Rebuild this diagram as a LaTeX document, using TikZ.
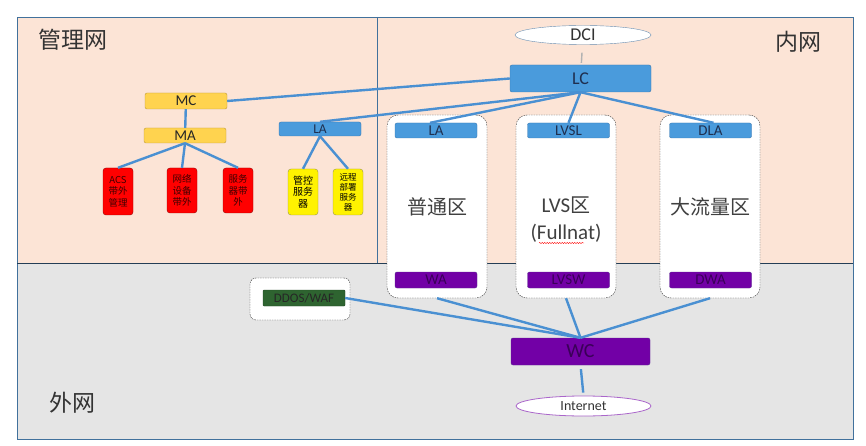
\documentclass[tikz,border=0pt]{standalone}
\usepackage{fontspec}
\setmainfont{Carlito}
\newfontfamily\cjk{Noto Sans CJK SC}
\usepackage{xcolor}
\usepackage{tikz}
\usetikzlibrary{shapes,shapes.geometric}
\usetikzlibrary{calc,positioning,decorations.pathmorphing}

\definecolor{peach}{HTML}{FCE4D6}
\definecolor{outgray}{HTML}{E5E5E5}
\definecolor{framecol}{HTML}{41719C}
\definecolor{linkblue}{HTML}{4A90D2}
\definecolor{nodeblue}{HTML}{4A9BDC}
\definecolor{nodeblueline}{HTML}{3A78B0}
\definecolor{mgmtyellow}{HTML}{FFD34F}
\definecolor{mgmtline}{HTML}{BF9A3A}
\definecolor{purp}{HTML}{7200A6}
\definecolor{purpline}{HTML}{5B2D91}
\definecolor{purptext}{HTML}{3A0058}
\definecolor{ddosgreen}{HTML}{2E6430}
\definecolor{labeltext}{HTML}{1F2F4F}

\begin{document}
\begin{tikzpicture}[x=1pt,y=-1pt,
	bluebox/.style={rectangle,rounded corners=2pt,draw=nodeblueline,fill=nodeblue,text=labeltext,inner sep=0pt,font=\fontsize{15}{16}\selectfont},
	mgmtbox/.style={rectangle,rounded corners=2pt,draw=mgmtline,fill=mgmtyellow,text=black!85,inner sep=0pt,font=\fontsize{15}{16}\selectfont,minimum width=82pt},
	redbox/.style={rectangle,rounded corners=3pt,draw=red!60!black,fill=red,text=black!75!red,inner sep=0pt,align=center,minimum width=30pt,font=\cjk\fontsize{9.5}{11.5}\selectfont},
	ctlbox/.style={rectangle,rounded corners=3pt,draw=yellow!55!black,fill=yellow,text=black,inner sep=0pt,align=center,minimum width=30pt,minimum height=46pt},
	zonebox/.style={rectangle,rounded corners=11pt,draw=black!80,dash pattern=on 1.5pt off 1pt,fill=white,minimum width=100pt,inner sep=0pt},
	purpbox/.style={rectangle,rounded corners=2pt,draw=purpline,fill=purp,text=purptext,inner sep=0pt,font=\fontsize{15}{16}\selectfont},
	cloud/.style={ellipse,fill=white,inner sep=0pt,text=black!80},
	areaname/.style={font=\cjk\fontsize{23}{23}\selectfont,text=black!80},
	zonename/.style={font=\fontsize{21}{27}\selectfont,text=black!75,align=center},
	link/.style={draw=linkblue,line width=2.4pt}]
	% areas
	\fill[peach] (17,17) rectangle (853,263);
	\fill[outgray] (17,263) rectangle (853,439);
	\draw[framecol,line width=0.8pt] (17,17) rectangle (853,439);
	\draw[framecol,line width=0.8pt] (377,17) -- (377,263);
	\draw[black!45!framecol,line width=0.8pt] (17,263) -- (853,263);
	\node[areaname] (mgmtnet) at (73,40) {管理网};
	\node[areaname] (innet) at (798,42) {内网};
	\node[areaname] (outnet) at (72,403) {外网};
	
	% management side
	\node[mgmtbox,minimum height=16pt] (mc) at (186,101) {MC};
	\node[mgmtbox,minimum height=15pt] (ma) at (185,135.5) {MA};
	\node[bluebox,minimum width=82pt,minimum height=14pt,font=\fontsize{13.5}{14}\selectfont] (lam) at (320,129) {LA};
	\node[redbox,minimum height=47pt] (acs) at (118,191.5) {ACS\\带外\\管理};
	\node[redbox,minimum height=45pt] (netdev) at (182,190.5) {网络\\设备\\带外};
	\node[redbox,minimum height=45pt] (server) at (238,190.5) {服务\\器带\\外};
	\node[ctlbox,font=\cjk\fontsize{10}{11.5}\selectfont] (ctlsrv) at (303,192) {管控\\服务\\器};
	\node[ctlbox,font=\cjk\fontsize{8.5}{10}\selectfont] (deploysrv) at (348,192) {远程\\部署\\服务\\器};
	
	% inner zones
	\node[cloud,draw=framecol!80,minimum width=136pt,minimum height=19pt,font=\fontsize{18}{18}\selectfont] (dci) at (583,35) {DCI};
	\node[bluebox,minimum width=141pt,minimum height=27pt,font=\fontsize{18}{18}\selectfont] (lc) at (580.5,78.5) {LC};
	\node[zonebox,minimum height=183pt] (zone1) at (437,206.5) {};
	\node[zonebox,minimum height=183pt] (zone2) at (566,206.5) {};
	\node[zonebox,minimum height=183pt] (zone3) at (710,206.5) {};
	\node[bluebox,minimum width=82pt,minimum height=15pt] (la) at (436,130.5) {LA};
	\node[bluebox,minimum width=82pt,minimum height=15pt] (lvsl) at (568.5,130.5) {LVSL};
	\node[bluebox,minimum width=82pt,minimum height=15pt] (dla) at (710.5,130.5) {DLA};
	\node[purpbox,minimum width=82pt,minimum height=16pt] (wa) at (436,280) {WA};
	\node[purpbox,minimum width=82pt,minimum height=16pt] (lvsw) at (568.5,280) {LVSW};
	\node[purpbox,minimum width=82pt,minimum height=16pt] (dwa) at (710.5,280) {DWA};
	\node[zonename,font=\cjk\fontsize{20}{26}\selectfont] (normal) at (437,207) {普通区};
	\node[zonename] (lvs) at (566,220) {LVS{\cjk\fontsize{20}{26}\selectfont 区}\\(Fullnat)};
	\node[zonename,font=\cjk\fontsize{20}{26}\selectfont] (bigflow) at (710,207) {大流量区};
	\draw[red,decorate,decoration={snake,amplitude=0.6pt,segment length=2.5pt}] (539,243) -- (584,243);
	
	% outside
	\node[zonebox,minimum height=42pt,rounded corners=6pt] (ddosbox) at (300,299) {};
	\node[rectangle,rounded corners=1pt,draw=ddosgreen!70!black,fill=ddosgreen,text=black!85,inner sep=0pt,minimum width=82pt,minimum height=16pt,font=\fontsize{13}{13}\selectfont] (ddos) at (304,298) {DDOS/WAF};
	\node[purpbox,minimum width=139pt,minimum height=27pt,font=\fontsize{20}{20}\selectfont] (wc) at (580.5,351.5) {WC};
	\node[cloud,draw=purp!60,line width=0.8pt,minimum width=135pt,minimum height=20pt,font=\fontsize{14}{14}\selectfont] (internet) at (583.5,406) {Internet};
	
	% links
	\draw[black!30,line width=1.4pt,shorten <=8pt,shorten >=2pt] (dci) -- (lc);
	\draw[link] (mc.east) -- (lc.west);
	\draw[link] (mc) -- (ma);
	\draw[link] (ma.south) -- (acs.north);
	\draw[link] (ma.south) -- (netdev.north);
	\draw[link] (ma.south) -- (server.north);
	\draw[link] (lam.south) -- (ctlsrv.north);
	\draw[link] (lam.south) -- (deploysrv.north);
	\draw[link] (lc.south) -- (lam.north);
	\draw[link] (lc.south) -- ([xshift=-6pt]la.north);
	\draw[link] (lc.south) -- (lvsl.north);
	\draw[link] (lc.south) -- ([xshift=3pt]dla.north);
	\draw[link] (ddos.east) -- (wc.north);
	\draw[link] (zone1.south) -- (wc.north);
	\draw[link] (zone2.south) -- (wc.north);
	\draw[link] (zone3.south) -- (wc.north);
	\draw[link,shorten <=4pt,shorten >=3pt] (wc.south) -- (internet.north);
	\useasboundingbox (0,0) rectangle (866,446);
\end{tikzpicture}
\end{document}
